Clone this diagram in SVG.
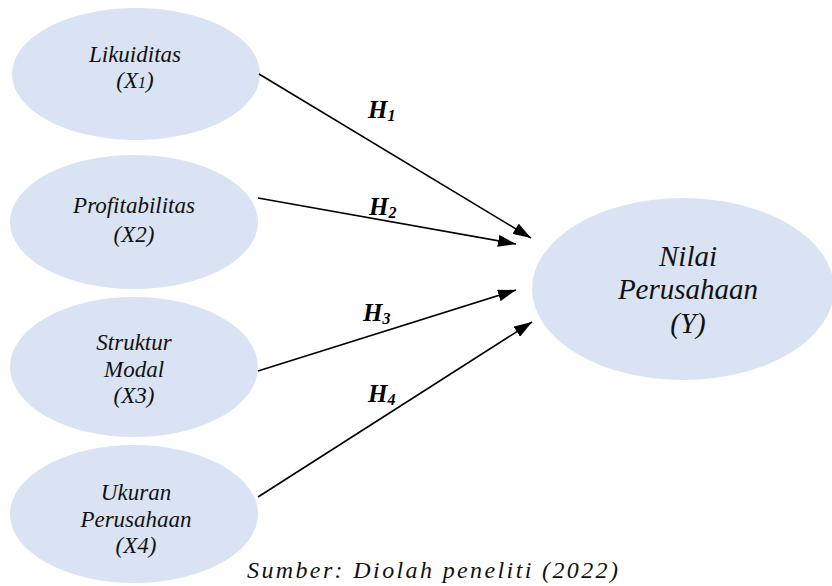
<svg xmlns="http://www.w3.org/2000/svg" width="832" height="586" viewBox="0 0 832 586">
<style>
.n{fill:#dae3f3;stroke:none}
.c{stroke:#000;stroke-width:1.6;fill:none}
</style>
<defs>
<marker id="ah" viewBox="0 0 18 12" refX="18" refY="6" markerWidth="18" markerHeight="12" markerUnits="userSpaceOnUse" orient="auto">
<path d="M0,0L18,6L0,12Z" fill="#000"/>
</marker>
</defs>
<rect width="832" height="586" fill="#fff"/>
<g id="x1">
<ellipse class="n" cx="136" cy="74" rx="124" ry="66"/>
<text x="135" y="62" font-family="Times New Roman, Liberation Serif, Tinos, serif" font-style="italic" font-size="23" text-anchor="middle" fill="#111">Likuiditas</text>
<text x="135" y="88" font-family="Times New Roman, Liberation Serif, Tinos, serif" font-style="italic" font-size="23" text-anchor="middle" fill="#111">(X<tspan font-size="16">1</tspan>)</text>
</g>
<g id="x2">
<ellipse class="n" cx="134" cy="222" rx="124" ry="67"/>
<text x="134" y="213" font-family="Times New Roman, Liberation Serif, Tinos, serif" font-style="italic" font-size="23" text-anchor="middle" fill="#111">Profitabilitas</text>
<text x="134" y="242" font-family="Times New Roman, Liberation Serif, Tinos, serif" font-style="italic" font-size="23" text-anchor="middle" fill="#111">(X2)</text>
</g>
<g id="x3">
<ellipse class="n" cx="134" cy="367" rx="124" ry="70"/>
<text x="134" y="350" font-family="Times New Roman, Liberation Serif, Tinos, serif" font-style="italic" font-size="23" text-anchor="middle" fill="#111">Struktur</text>
<text x="134" y="377" font-family="Times New Roman, Liberation Serif, Tinos, serif" font-style="italic" font-size="23" text-anchor="middle" fill="#111">Modal</text>
<text x="134" y="403" font-family="Times New Roman, Liberation Serif, Tinos, serif" font-style="italic" font-size="23" text-anchor="middle" fill="#111">(X3)</text>
</g>
<g id="x4">
<ellipse class="n" cx="134" cy="514" rx="124" ry="69"/>
<text x="136" y="500" font-family="Times New Roman, Liberation Serif, Tinos, serif" font-style="italic" font-size="23" text-anchor="middle" fill="#111">Ukuran</text>
<text x="136" y="527" font-family="Times New Roman, Liberation Serif, Tinos, serif" font-style="italic" font-size="23" text-anchor="middle" fill="#111">Perusahaan</text>
<text x="136" y="553" font-family="Times New Roman, Liberation Serif, Tinos, serif" font-style="italic" font-size="23" text-anchor="middle" fill="#111">(X4)</text>
</g>
<g id="y">
<ellipse class="n" cx="683" cy="289" rx="151" ry="91"/>
<text x="688" y="266" font-family="Times New Roman, Liberation Serif, Tinos, serif" font-style="italic" font-size="29" text-anchor="middle" fill="#111">Nilai</text>
<text x="688" y="299" font-family="Times New Roman, Liberation Serif, Tinos, serif" font-style="italic" font-size="29" text-anchor="middle" fill="#111">Perusahaan</text>
<text x="688" y="333" font-family="Times New Roman, Liberation Serif, Tinos, serif" font-style="italic" font-size="29" text-anchor="middle" fill="#111">(Y)</text>
</g>
<g id="connectors">
<line class="c" x1="259" y1="74" x2="531" y2="238" marker-end="url(#ah)"/>
<line class="c" x1="258" y1="198" x2="516" y2="244" marker-end="url(#ah)"/>
<line class="c" x1="258" y1="371" x2="516" y2="290" marker-end="url(#ah)"/>
<line class="c" x1="258" y1="497" x2="532" y2="322" marker-end="url(#ah)"/>
</g>
<g id="labels">
<text x="368" y="118" font-family="Times New Roman, Liberation Serif, Tinos, serif" font-style="italic" font-weight="bold" font-size="25" fill="#000">H<tspan dy="3" font-size="16">1</tspan></text>
<text x="369" y="215" font-family="Times New Roman, Liberation Serif, Tinos, serif" font-style="italic" font-weight="bold" font-size="25" fill="#000">H<tspan dy="3" font-size="16">2</tspan></text>
<text x="363" y="321" font-family="Times New Roman, Liberation Serif, Tinos, serif" font-style="italic" font-weight="bold" font-size="25" fill="#000">H<tspan dy="3" font-size="16">3</tspan></text>
<text x="368" y="402" font-family="Times New Roman, Liberation Serif, Tinos, serif" font-style="italic" font-weight="bold" font-size="25" fill="#000">H<tspan dy="3" font-size="16">4</tspan></text>
</g>
<text x="247" y="578" textLength="371" lengthAdjust="spacing" font-family="Times New Roman, Liberation Serif, Tinos, serif" font-style="italic" font-size="24" fill="#111">Sumber: Diolah peneliti (2022)</text>
</svg>
